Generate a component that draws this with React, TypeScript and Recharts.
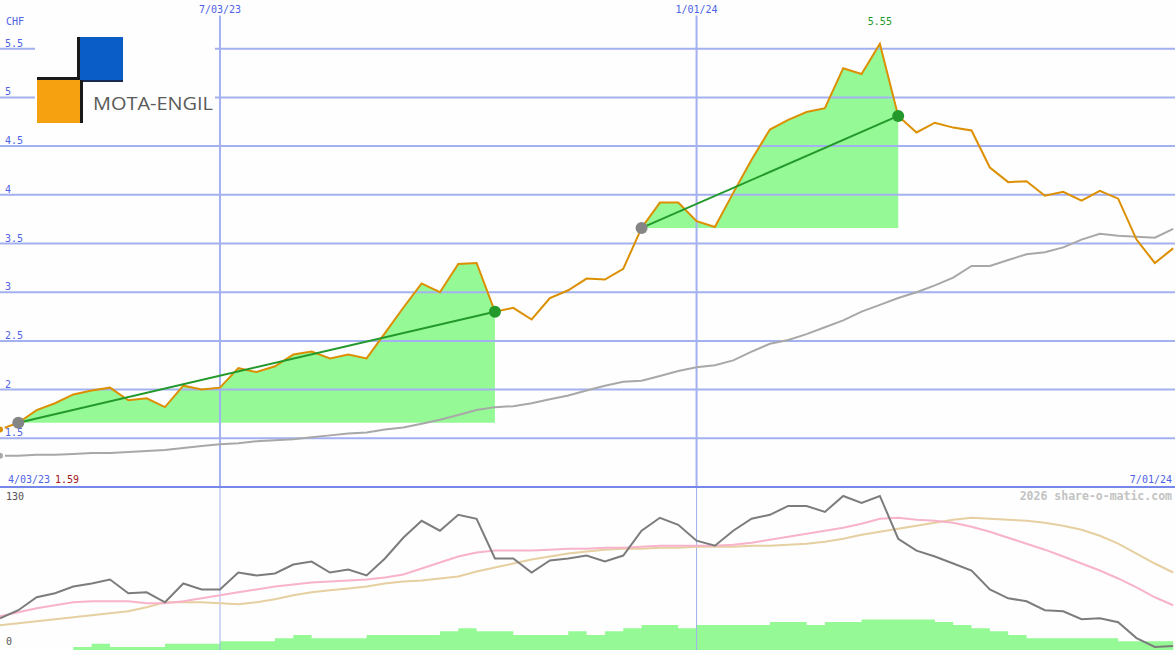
import React from "react";
import { ComposedChart, Area, Line, XAxis, YAxis, ReferenceLine, ReferenceDot } from "recharts";

const weekIndex = [
  0, 1, 2, 3, 4, 5, 6, 7, 8, 9, 10, 11, 12, 13, 14, 15, 16, 17, 18, 19, 20, 21, 22, 23, 24, 25, 26, 27, 28, 29, 30, 31,
  32, 33, 34, 35, 36, 37, 38, 39, 40, 41, 42, 43, 44, 45, 46, 47, 48, 49, 50, 51, 52, 53, 54, 55, 56, 57, 58, 59, 60,
  61, 62, 63, 64,
];

const price = [
  1.59, 1.66, 1.79, 1.86, 1.95, 1.99, 2.02, 1.89, 1.91, 1.82,
  2.04, 2.0, 2.02, 2.22, 2.18, 2.24, 2.36, 2.39, 2.32, 2.36,
  2.32, 2.58, 2.84, 3.09, 3.0, 3.29, 3.3, 2.8, 2.84, 2.72,
  2.94, 3.02, 3.14, 3.13, 3.24, 3.66, 3.92, 3.92, 3.73, 3.67,
  4.02, 4.36, 4.67, 4.77, 4.85, 4.89, 5.3, 5.24, 5.55, 4.81,
  4.64, 4.74, 4.69, 4.66, 4.28, 4.13, 4.14, 3.99, 4.03, 3.94,
  4.04, 3.96, 3.54, 3.3, 3.45,
];

const movingAvg = [
  1.32, 1.32, 1.33, 1.33, 1.34, 1.35, 1.35, 1.36, 1.37, 1.38,
  1.4, 1.42, 1.44, 1.45, 1.47, 1.48, 1.49, 1.51, 1.53, 1.55,
  1.56, 1.59, 1.61, 1.65, 1.69, 1.74, 1.79, 1.82, 1.83, 1.86,
  1.9, 1.94, 1.99, 2.04, 2.08, 2.09, 2.14, 2.19, 2.23, 2.25,
  2.3, 2.39, 2.47, 2.51, 2.57, 2.64, 2.71, 2.8, 2.87, 2.94,
  3.0, 3.07, 3.15, 3.27, 3.27, 3.33, 3.39, 3.41, 3.46, 3.54,
  3.6, 3.58, 3.57, 3.56, 3.65,
];

const oscillator = [
  25.5, 31.9, 42.3, 45.5, 51.0, 53.4, 56.6, 45.5, 46.3, 38.3,
  53.4, 48.6, 48.6, 62.2, 59.8, 61.4, 68.6, 71.0, 62.2, 64.6,
  59.8, 73.4, 90.1, 103.7, 95.7, 108.5, 105.3, 73.4, 73.4, 62.2,
  71.8, 73.4, 75.8, 71.0, 75.8, 95.7, 106.1, 100.5, 87.7, 83.7,
  95.7, 105.3, 108.5, 115.6, 115.6, 110.8, 123.6, 118.0, 123.6, 89.3,
  79.7, 75.0, 69.4, 63.8, 48.6, 41.5, 39.1, 31.9, 31.1, 24.7,
  25.5, 22.3, 9.6, 2.4, 3.2,
];

const signalPink = [
  27.1, 30.3, 33.5, 35.9, 38.3, 39.1, 39.1, 39.1, 37.5, 37.5,
  39.1, 41.5, 43.9, 46.3, 48.6, 51.0, 52.6, 54.2, 55.0, 55.8,
  56.6, 58.2, 60.6, 65.4, 70.2, 75.0, 78.2, 79.8, 79.8, 79.8,
  80.5, 81.3, 81.3, 82.1, 82.1, 82.9, 83.7, 83.7, 83.7, 83.7,
  84.5, 86.1, 88.5, 90.9, 93.3, 95.7, 98.1, 101.3, 105.3, 106.1,
  104.5, 103.7, 102.1, 98.9, 94.9, 90.1, 85.3, 80.5, 75.0, 69.4,
  63.8, 57.4, 50.2, 42.3, 35.9,
];

const signalTan = [
  19.9, 21.5, 23.1, 24.7, 26.3, 27.9, 29.5, 31.1, 34.3, 38.3,
  38.3, 38.3, 37.5, 36.7, 38.3, 40.7, 43.9, 46.3, 47.9, 49.4,
  51.0, 53.4, 55.0, 55.8, 57.4, 59.0, 63.0, 66.2, 69.4, 72.6,
  75.0, 77.4, 79.0, 80.5, 81.3, 81.3, 82.1, 82.1, 82.9, 82.9,
  82.9, 83.7, 83.7, 84.5, 85.3, 86.9, 89.3, 92.5, 94.9, 97.3,
  99.7, 102.1, 104.5, 106.1, 105.3, 104.5, 103.7, 102.1, 99.7, 96.5,
  91.7, 85.3, 77.4, 69.4, 62.2,
];

const volume = [
  0, 0, 0, 0, 2.5, 5, 2.5, 2.5, 2.5, 5,
  5, 5, 7, 7, 7, 9.5, 12, 9.5, 9.5, 9.5,
  12, 12, 12, 12, 15, 17.5, 15, 15, 12, 12,
  12, 15, 12, 15, 17.5, 20, 20, 17.5, 20, 20,
  20, 20, 22.5, 22.5, 20, 22.5, 22.5, 24.5, 24.5, 24.5,
  24.5, 22.5, 20, 17.5, 15, 12, 9.5, 9.5, 9.5, 9.5,
  9.5, 7, 7, 7, 7,
];

const priceTicks = [1.5, 2, 2.5, 3, 3.5, 4, 4.5, 5, 5.5];
const dateTicks = [12, 38];
const dateTickLabels = ["7/03/23", "1/01/24"];
const trendSegments = [
  { from: 1, to: 27 },
  { from: 35, to: 49 },
];
const startLabel = "4/03/23";
const endLabel = "7/01/24";
const currency = "CHF";

const FONT = "'DejaVu Sans Mono', monospace";
const GRID = "#a3b1f0";
const LABEL_BLUE = "#4f63e6";
const FILL_GREEN = "#95f995";
const TREND_GREEN = "#22992a";
const BG = "#fdfefd";

const topRows = weekIndex.map((k, i) => {
  const r: any = { k, price: price[i], ma: movingAvg[i] };
  trendSegments.forEach((s, j) => {
    if (i >= s.from && i <= s.to) r["fill" + j] = [price[s.from], price[i]];
    if (i === s.from || i === s.to) r["trend" + j] = price[i];
  });
  return r;
});

const bottomRows = weekIndex.map((k, i) => ({
  k,
  osc: oscillator[i],
  pink: signalPink[i],
  tan: signalTan[i],
  vol: volume[i],
}));

const peakIdx = price.indexOf(Math.max(...price));

const PriceLabel = (props: any) => {
  const { viewBox, text } = props;
  if (!viewBox) return null;
  return (
    <text x={5} y={viewBox.y - 2} fill={LABEL_BLUE} fontSize={10} fontFamily={FONT}>
      {text}
    </text>
  );
};

const DateLabel = (props: any) => {
  const { viewBox, text } = props;
  if (!viewBox) return null;
  return (
    <text x={viewBox.x} y={viewBox.y - 3} fill={LABEL_BLUE} fontSize={10} fontFamily={FONT} textAnchor="middle">
      {text}
    </text>
  );
};

export default function App() {
  return (
    <div style={{ position: "fixed", width: 1175, height: 650, left: 0, top: 0, background: BG, overflow: "hidden" }}>
      <div style={{ position: "absolute", left: 0, top: 0 }}>
        <ComposedChart width={1175} height={487} data={topRows} margin={{ top: 0, right: 0, bottom: 0, left: 0 }}>
          <XAxis dataKey="k" type="number" domain={[0, 64.1]} hide />
          <YAxis type="number" domain={[1, 6]} hide />
          {priceTicks.map((v) => (
            <ReferenceLine
              key={"h" + v}
              y={v}
              stroke={GRID}
              strokeWidth={2}
              label={<PriceLabel text={String(v)} />}
            />
          ))}
          {dateTicks.map((d, i) => (
            <ReferenceLine
              key={"v" + d}
              segment={[
                { x: d, y: 1 },
                { x: d, y: 5.84 },
              ]}
              stroke={GRID}
              strokeWidth={2}
              label={<DateLabel text={dateTickLabels[i]} />}
            />
          ))}
          {trendSegments.map((s, j) => (
            <Area
              key={"f" + j}
              dataKey={"fill" + j}
              type="linear"
              fill={FILL_GREEN}
              fillOpacity={1}
              stroke="none"
              isAnimationActive={false}
              connectNulls={false}
            />
          ))}
          <Line dataKey="ma" type="linear" stroke="#a8a8a8" strokeWidth={2} dot={false} isAnimationActive={false} />
          <Line dataKey="price" type="linear" stroke="#dc8f00" strokeWidth={2} dot={false} isAnimationActive={false} />
          {trendSegments.map((s, j) => (
            <ReferenceDot key={"ds" + j} x={s.from} y={price[s.from]} r={6} fill="#858585" stroke="none" />
          ))}
          {trendSegments.map((s, j) => (
            <ReferenceDot key={"de" + j} x={s.to} y={price[s.to]} r={6} fill={TREND_GREEN} stroke="none" />
          ))}
          {trendSegments.map((s, j) => (
            <Line
              key={"t" + j}
              dataKey={"trend" + j}
              type="linear"
              stroke={TREND_GREEN}
              strokeWidth={2}
              dot={false}
              connectNulls
              isAnimationActive={false}
            />
          ))}
          <ReferenceDot
            x={peakIdx}
            y={price[peakIdx]}
            r={0}
            fill="none"
            stroke="none"
            label={{
              value: price[peakIdx].toFixed(2),
              position: "top",
              offset: 19,
              fill: TREND_GREEN,
              fontSize: 10,
              fontFamily: FONT,
            }}
          />
        </ComposedChart>
      </div>

      <div style={{ position: "absolute", left: 0, top: 486, width: 1175, height: 2, background: "#7587e8" }} />

      <div style={{ position: "absolute", left: 0, top: 488 }}>
        <ComposedChart width={1175} height={162} data={bottomRows} margin={{ top: 0, right: 0, bottom: 0, left: 0 }}>
          <XAxis dataKey="k" type="number" domain={[0, 64.1]} hide />
          <YAxis type="number" domain={[0, 130]} hide />
          {dateTicks.map((d) => (
            <ReferenceLine key={"bv" + d} x={d} stroke={GRID} strokeWidth={1} />
          ))}
          <Area
            dataKey="vol"
            type="stepAfter"
            fill={FILL_GREEN}
            fillOpacity={1}
            stroke="none"
            isAnimationActive={false}
          />
          <Line dataKey="tan" type="linear" stroke="#e6cfa0" strokeWidth={2} dot={false} isAnimationActive={false} />
          <Line dataKey="pink" type="linear" stroke="#f8b3ca" strokeWidth={2} dot={false} isAnimationActive={false} />
          <Line dataKey="osc" type="linear" stroke="#7c7c7c" strokeWidth={2} dot={false} isAnimationActive={false} />
        </ComposedChart>
      </div>

      <svg
        width={1175}
        height={650}
        style={{ position: "absolute", left: 0, top: 0, pointerEvents: "none" }}
      >
        <text x={6} y={25} fill={LABEL_BLUE} fontSize={10} fontFamily={FONT}>
          {currency}
        </text>
        <rect x={35} y={34} width={180} height={92} fill={BG} />
        <rect x={80} y={37} width={43} height={43} fill="#0a5cc6" />
        <rect x={37} y={80} width={43} height={43} fill="#f6a210" />
        <rect x={77} y={37} width={3} height={43} fill="#1a1a1a" />
        <rect x={37} y={77} width={43} height={3} fill="#1a1a1a" />
        <rect x={80} y={80} width={3} height={43} fill="#1a1a1a" />
        <rect x={83} y={80} width={40} height={2} fill="#1a2a50" />
        <text
          x={93}
          y={110}
          fill="#5a5a5a"
          fontSize={18}
          fontFamily="'Open Sans', 'DejaVu Sans', sans-serif"
          textLength={120}
          lengthAdjust="spacingAndGlyphs"
        >
          MOTA-ENGIL
        </text>
        <text x={8} y={483} fill={LABEL_BLUE} fontSize={10} fontFamily={FONT}>
          {startLabel}
        </text>
        <text x={55} y={483} fill="#a01818" fontSize={10} fontFamily={FONT}>
          {price[0].toFixed(2)}
        </text>
        <text x={1172} y={483} fill={LABEL_BLUE} fontSize={10} fontFamily={FONT} textAnchor="end">
          {endLabel}
        </text>
        <text x={1172} y={500} fill="#c3c3c3" fontSize={11.5} fontWeight="bold" fontFamily={FONT} textAnchor="end">
          2026 share-o-matic.com
        </text>
        <text x={6} y={500} fill="#555" fontSize={10} fontFamily={FONT}>
          130
        </text>
        <text x={6} y={645} fill="#555" fontSize={10} fontFamily={FONT}>
          0
        </text>
      </svg>
    </div>
  );
}
